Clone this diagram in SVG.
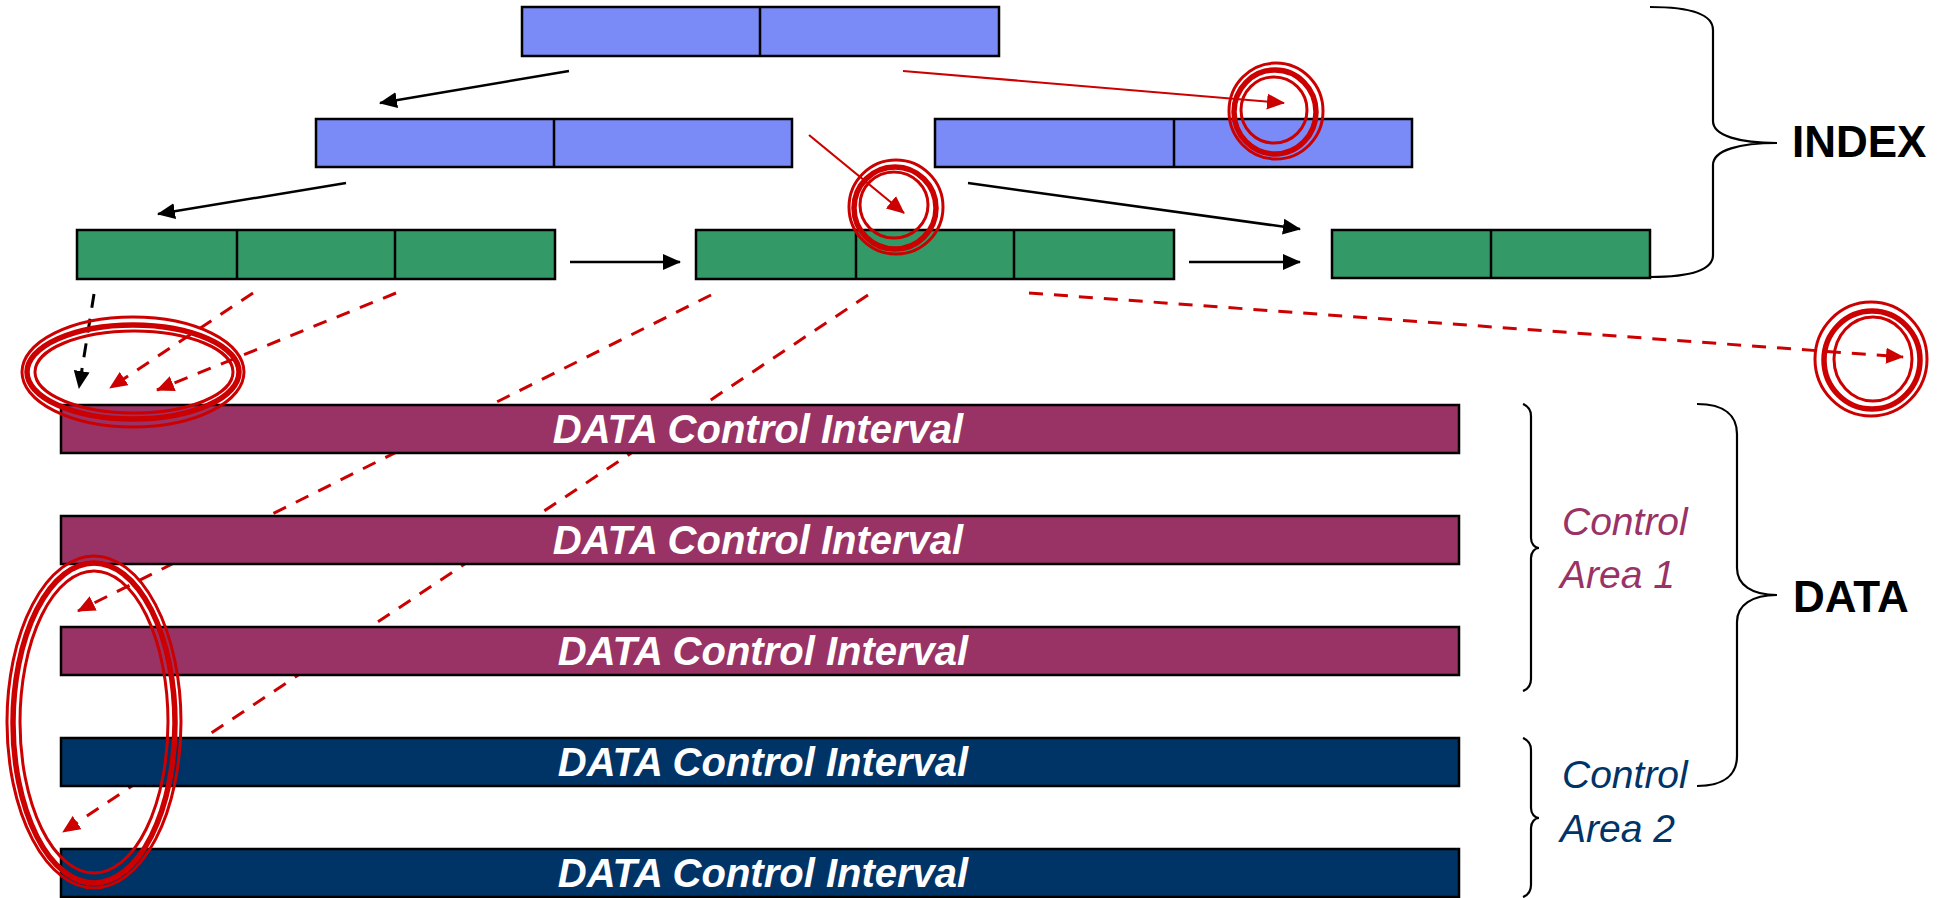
<svg xmlns="http://www.w3.org/2000/svg" width="1944" height="898" viewBox="0 0 1944 898">
<defs>
<style>
.blue{fill:#7A8BF8;stroke:#000;stroke-width:2.5}
.green{fill:#339966;stroke:#000;stroke-width:2.5}
.div{stroke:#000;stroke-width:2.5}
.maroon{fill:#993366;stroke:#000;stroke-width:2.5}
.navy{fill:#003366;stroke:#000;stroke-width:2.5}
.dtext{font-family:"Liberation Sans",Arial,sans-serif;font-weight:bold;font-style:italic;font-size:40px;fill:#fff;text-anchor:middle}
.lbl{font-family:"Liberation Sans",Arial,sans-serif;font-weight:bold;font-size:44px;fill:#000}
.ca{font-family:"Liberation Sans",Arial,sans-serif;font-style:italic;font-size:39px}
.brace{fill:none;stroke:#000;stroke-width:2.2}
.blk{stroke:#000;stroke-width:2.5;fill:none;marker-end:url(#ab)}
.red{stroke:#CC0000;stroke-width:2.2;fill:none;marker-end:url(#ar)}
.rdash{stroke:#CC0000;stroke-width:3;fill:none;stroke-dasharray:14 11;marker-end:url(#ar)}
.bdash{stroke:#000;stroke-width:3;fill:none;stroke-dasharray:14 11;marker-end:url(#ab)}
.ring{fill:none;stroke:#CC0000;stroke-width:3}
.ringt{fill:none;stroke:#CC0000;stroke-width:5.5}
</style>
<marker id="ab" markerUnits="userSpaceOnUse" markerWidth="18" markerHeight="16" refX="17" refY="8" orient="auto"><path d="M0,0 L18,8 L0,16 z" fill="#000"/></marker>
<marker id="ar" markerUnits="userSpaceOnUse" markerWidth="18" markerHeight="16" refX="17" refY="8" orient="auto"><path d="M0,0 L18,8 L0,16 z" fill="#CC0000"/></marker>
</defs>
<rect width="1944" height="898" fill="#fff"/>

<g id="connectors">
<line class="blk" x1="569" y1="71" x2="380" y2="103"/>
<line class="red" x1="903" y1="71" x2="1284" y2="103"/>
<line class="blk" x1="346" y1="183" x2="158" y2="214"/>
<line class="red" x1="809" y1="135" x2="904" y2="213"/>
<line class="blk" x1="968" y1="183" x2="1300" y2="229"/>
<line class="blk" x1="570" y1="262" x2="680" y2="262"/>
<line class="blk" x1="1189" y1="262" x2="1300" y2="262"/>
<line class="bdash" x1="94" y1="294" x2="79" y2="388"/>
<line class="rdash" x1="253" y1="293" x2="110" y2="388"/>
<line class="rdash" x1="396" y1="293" x2="157" y2="390"/>
<line class="rdash" x1="711" y1="295" x2="78" y2="611"/>
<line class="rdash" x1="868" y1="295" x2="63" y2="832"/>
<line class="rdash" x1="1029" y1="293" x2="1903" y2="357"/>
</g>

<g id="root">
<rect class="blue" x="522" y="7" width="477" height="49"/>
<line class="div" x1="760" y1="7" x2="760" y2="56"/>
</g>
<g id="index-l2a">
<rect class="blue" x="316" y="119" width="476" height="48"/>
<line class="div" x1="554" y1="119" x2="554" y2="167"/>
</g>
<g id="index-l2b">
<rect class="blue" x="935" y="119" width="477" height="48"/>
<line class="div" x1="1174" y1="119" x2="1174" y2="167"/>
</g>
<g id="seq-1">
<rect class="green" x="77" y="230" width="478" height="49"/>
<line class="div" x1="237" y1="230" x2="237" y2="279"/>
<line class="div" x1="395" y1="230" x2="395" y2="279"/>
</g>
<g id="seq-2">
<rect class="green" x="696" y="230" width="478" height="49"/>
<line class="div" x1="856" y1="230" x2="856" y2="279"/>
<line class="div" x1="1014" y1="230" x2="1014" y2="279"/>
</g>
<g id="seq-3">
<rect class="green" x="1332" y="230" width="318" height="48"/>
<line class="div" x1="1491" y1="230" x2="1491" y2="278"/>
</g>

<g id="ci-1"><rect class="maroon" x="61" y="405" width="1398" height="48"/><text class="dtext" x="758" y="443">DATA Control Interval</text></g>
<g id="ci-2"><rect class="maroon" x="61" y="516" width="1398" height="48"/><text class="dtext" x="758" y="554">DATA Control Interval</text></g>
<g id="ci-3"><rect class="maroon" x="61" y="627" width="1398" height="48"/><text class="dtext" x="763" y="665">DATA Control Interval</text></g>
<g id="ci-4"><rect class="navy" x="61" y="738" width="1398" height="48"/><text class="dtext" x="763" y="776">DATA Control Interval</text></g>
<g id="ci-5"><rect class="navy" x="61" y="849" width="1398" height="48"/><text class="dtext" x="763" y="887">DATA Control Interval</text></g>

<g id="index-brace">
<path class="brace" d="M1650,7 C1690,7 1713,14 1713,30 L1713,121 C1713,136 1740,143 1777,143 C1740,143 1713,150 1713,165 L1713,255 C1713,270 1690,277 1650,277"/>
<text class="lbl" x="1792" y="157">INDEX</text>
</g>
<g id="data-brace">
<path class="brace" d="M1697,404 C1725,404 1737,416 1737,434 L1737,568 C1737,585 1752,595 1777,595 C1752,595 1737,605 1737,622 L1737,756 C1737,774 1725,786 1697,786"/>
<text class="lbl" x="1793" y="612">DATA</text>
</g>
<g id="ca1-brace">
<path class="brace" d="M1523,404 C1528,406 1531,410 1531,416 L1531,538 C1531,544 1535,548 1539,548 C1535,548 1531,552 1531,558 L1531,679 C1531,686 1528,689 1523,691"/>
<text class="ca" fill="#993366"><tspan x="1562" y="535">Control</tspan><tspan x="1560" y="588">Area 1</tspan></text>
</g>
<g id="ca2-brace">
<path class="brace" d="M1523,738 C1528,740 1531,744 1531,750 L1531,808 C1531,814 1535,818 1539,818 C1535,818 1531,822 1531,828 L1531,885 C1531,891 1528,895 1523,897"/>
<text class="ca" fill="#003366"><tspan x="1562" y="788">Control</tspan><tspan x="1560" y="842">Area 2</tspan></text>
</g>

<g id="highlights">
<ellipse class="ring" cx="1276" cy="111" rx="47" ry="48"/>
<ellipse class="ringt" cx="1275" cy="112" rx="41" ry="42"/>
<ellipse class="ring" cx="1274" cy="110" rx="33" ry="33"/>

<ellipse class="ring" cx="896" cy="207" rx="47" ry="47"/>
<ellipse class="ringt" cx="895" cy="208" rx="41" ry="41"/>
<ellipse class="ring" cx="894" cy="205" rx="34" ry="33"/>

<ellipse class="ring" cx="1871" cy="359" rx="56" ry="57"/>
<ellipse class="ringt" cx="1872" cy="360" rx="48" ry="49"/>
<ellipse class="ring" cx="1873" cy="359" rx="39" ry="42"/>

<ellipse class="ring" cx="133" cy="372" rx="111" ry="55"/>
<ellipse class="ringt" cx="133" cy="372" rx="106" ry="47"/>
<ellipse class="ring" cx="134" cy="372" rx="99" ry="41"/>

<ellipse class="ring" cx="94" cy="722" rx="87" ry="166"/>
<ellipse class="ringt" cx="94" cy="723" rx="81" ry="160"/>
<ellipse class="ring" cx="94" cy="722" rx="74" ry="151"/>
</g>
</svg>
